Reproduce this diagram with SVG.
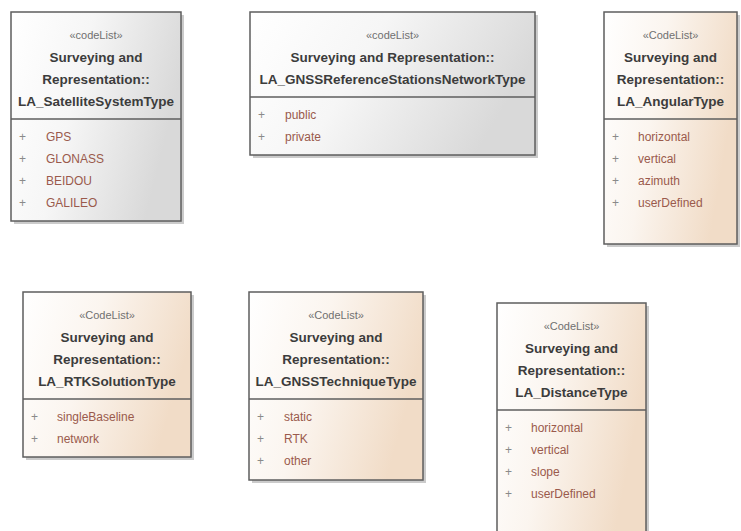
<svg xmlns="http://www.w3.org/2000/svg" width="741" height="531" viewBox="0 0 741 531">
<defs>
<linearGradient id="gGrey" x1="0" y1="0" x2="1" y2="0.3">
<stop offset="0" stop-color="#ffffff"/>
<stop offset="0.45" stop-color="#f6f6f6"/>
<stop offset="1" stop-color="#d9d9d9"/>
</linearGradient>
<linearGradient id="gPeach" x1="0" y1="0" x2="1" y2="0.3">
<stop offset="0" stop-color="#ffffff"/>
<stop offset="0.45" stop-color="#fbf5ef"/>
<stop offset="1" stop-color="#f1dcc7"/>
</linearGradient>
<style>
.shadow{fill:#b5b5b5;opacity:0.7}
.box{stroke:#5e5e5e;stroke-width:1.5}
.grey{fill:url(#gGrey)}
.peach{fill:url(#gPeach)}
.div{stroke:#5e5e5e;stroke-width:1.3}
.st{font-family:"Liberation Sans",Arial,sans-serif;font-size:11px;fill:#707070;text-anchor:middle}
.hd{font-family:"Liberation Sans",Arial,sans-serif;font-size:13.5px;font-weight:bold;fill:#3c3c3c;text-anchor:middle}
.pl{font-family:"Liberation Sans",Arial,sans-serif;font-size:12px;fill:#8a8a8a}
.it{font-family:"Liberation Sans",Arial,sans-serif;font-size:12px;fill:#9a5a4c}
</style>
</defs>
<rect width="741" height="531" fill="#ffffff"/>
<g id="connectors"></g>

<g id="LA_SatelliteSystemType">
<rect class="shadow" x="14" y="15" width="170" height="209"/>
<rect class="box grey" x="11" y="12" width="170" height="209"/>
<line class="div" x1="11" y1="119" x2="181" y2="119"/>
<text class="st" x="96" y="39">«codeList»</text>
<text class="hd" x="96" y="61.5">Surveying and</text>
<text class="hd" x="96" y="83.5">Representation::</text>
<text class="hd" x="96" y="105.5">LA_SatelliteSystemType</text>
<text class="pl" x="19" y="141">+</text><text class="it" x="46" y="141">GPS</text>
<text class="pl" x="19" y="163">+</text><text class="it" x="46" y="163">GLONASS</text>
<text class="pl" x="19" y="185">+</text><text class="it" x="46" y="185">BEIDOU</text>
<text class="pl" x="19" y="207">+</text><text class="it" x="46" y="207">GALILEO</text>
</g>

<g id="LA_GNSSReferenceStationsNetworkType">
<rect class="shadow" x="253" y="15" width="285" height="143"/>
<rect class="box grey" x="250" y="12" width="285" height="143"/>
<line class="div" x1="250" y1="97" x2="535" y2="97"/>
<text class="st" x="392.5" y="39">«codeList»</text>
<text class="hd" x="392.5" y="61.5">Surveying and Representation::</text>
<text class="hd" x="392.5" y="83.5">LA_GNSSReferenceStationsNetworkType</text>
<text class="pl" x="258" y="119">+</text><text class="it" x="285" y="119">public</text>
<text class="pl" x="258" y="141">+</text><text class="it" x="285" y="141">private</text>
</g>

<g id="LA_AngularType">
<rect class="shadow" x="607" y="15" width="133" height="232"/>
<rect class="box peach" x="604" y="12" width="133" height="232"/>
<line class="div" x1="604" y1="119" x2="737" y2="119"/>
<text class="st" x="670.5" y="39">«CodeList»</text>
<text class="hd" x="670.5" y="61.5">Surveying and</text>
<text class="hd" x="670.5" y="83.5">Representation::</text>
<text class="hd" x="670.5" y="105.5">LA_AngularType</text>
<text class="pl" x="612" y="141">+</text><text class="it" x="638" y="141">horizontal</text>
<text class="pl" x="612" y="163">+</text><text class="it" x="638" y="163">vertical</text>
<text class="pl" x="612" y="185">+</text><text class="it" x="638" y="185">azimuth</text>
<text class="pl" x="612" y="207">+</text><text class="it" x="638" y="207">userDefined</text>
</g>

<g id="LA_RTKSolutionType">
<rect class="shadow" x="26" y="295" width="168" height="165"/>
<rect class="box peach" x="23" y="292" width="168" height="165"/>
<line class="div" x1="23" y1="399" x2="191" y2="399"/>
<text class="st" x="107" y="319">«CodeList»</text>
<text class="hd" x="107" y="341.5">Surveying and</text>
<text class="hd" x="107" y="363.5">Representation::</text>
<text class="hd" x="107" y="385.5">LA_RTKSolutionType</text>
<text class="pl" x="31" y="421">+</text><text class="it" x="57" y="421">singleBaseline</text>
<text class="pl" x="31" y="443">+</text><text class="it" x="57" y="443">network</text>
</g>

<g id="LA_GNSSTechniqueType">
<rect class="shadow" x="252" y="295" width="174" height="188"/>
<rect class="box peach" x="249" y="292" width="174" height="188"/>
<line class="div" x1="249" y1="399" x2="423" y2="399"/>
<text class="st" x="336" y="319">«CodeList»</text>
<text class="hd" x="336" y="341.5">Surveying and</text>
<text class="hd" x="336" y="363.5">Representation::</text>
<text class="hd" x="336" y="385.5">LA_GNSSTechniqueType</text>
<text class="pl" x="257" y="421">+</text><text class="it" x="284" y="421">static</text>
<text class="pl" x="257" y="443">+</text><text class="it" x="284" y="443">RTK</text>
<text class="pl" x="257" y="465">+</text><text class="it" x="284" y="465">other</text>
</g>

<g id="LA_DistanceType">
<rect class="shadow" x="500" y="306" width="149" height="232"/>
<rect class="box peach" x="497" y="303" width="149" height="232"/>
<line class="div" x1="497" y1="410" x2="646" y2="410"/>
<text class="st" x="571.5" y="330">«CodeList»</text>
<text class="hd" x="571.5" y="352.5">Surveying and</text>
<text class="hd" x="571.5" y="374.5">Representation::</text>
<text class="hd" x="571.5" y="396.5">LA_DistanceType</text>
<text class="pl" x="505" y="432">+</text><text class="it" x="531" y="432">horizontal</text>
<text class="pl" x="505" y="454">+</text><text class="it" x="531" y="454">vertical</text>
<text class="pl" x="505" y="476">+</text><text class="it" x="531" y="476">slope</text>
<text class="pl" x="505" y="498">+</text><text class="it" x="531" y="498">userDefined</text>
</g>
</svg>
